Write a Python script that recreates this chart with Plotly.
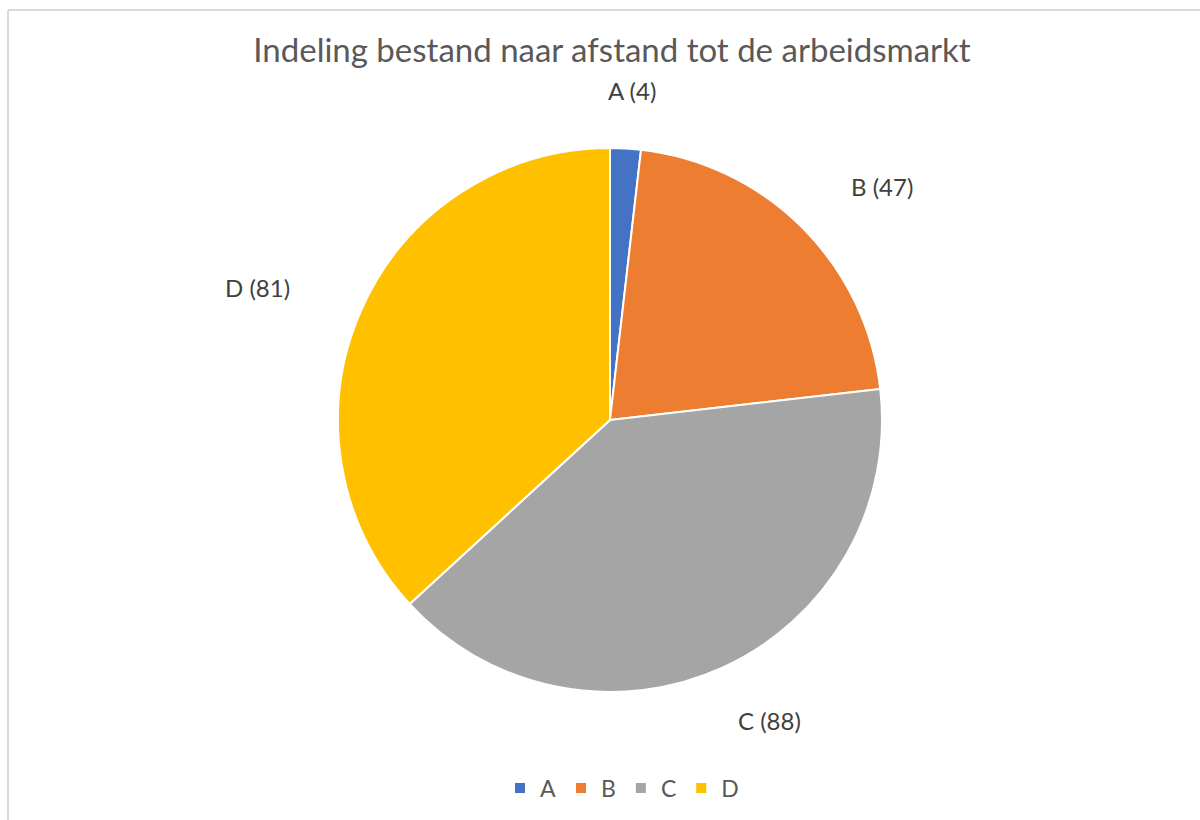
import math
import plotly.graph_objects as go

categories = ["A", "B", "C", "D"]
values = [4, 47, 88, 81]
colors = ["#4472C4", "#ED7D31", "#A5A5A5", "#FFC000"]
title_text = "Indeling bestand naar afstand tot de arbeidsmarkt"

W, H = 1200, 820
cx, cy, R = 610, 420, 272
FONT = "Lato, Open Sans, sans-serif"

fig = go.Figure()
fig.add_trace(go.Pie(
    labels=categories,
    values=values,
    sort=False,
    direction="clockwise",
    rotation=0,
    marker=dict(colors=colors, line=dict(color="white", width=2)),
    textinfo="none",
    hoverinfo="label+value",
    domain=dict(x=[(cx - R) / W, (cx + R) / W], y=[(H - cy - R) / H, (H - cy + R) / H]),
))

# data labels placed outside, computed from the slice mid-angles
total = sum(values)
cum = 0
annotations = []
gap_x, gap_y, box_w, box_h = 80, 45, 66, 26
for cat, v in zip(categories, values):
    mid = (cum + v / 2) / total * 2 * math.pi
    cum += v
    s, c = math.sin(mid), math.cos(mid)
    px = cx + (R + gap_x) * s + s * box_w / 2
    py = cy - (R + gap_y) * c - c * box_h / 2
    annotations.append(dict(
        x=px / W, y=1 - py / H, xref="paper", yref="paper",
        text=f"{cat} ({v})", showarrow=False,
        xanchor="center", yanchor="middle",
        font=dict(family=FONT, size=24, color="#404040"),
    ))

fig.update_layout(
    width=W, height=H,
    margin=dict(l=0, r=0, t=0, b=0),
    paper_bgcolor="white",
    plot_bgcolor="white",
    title=dict(
        text=title_text, x=612 / W, xanchor="center", y=1 - 50 / H, yanchor="middle",
        font=dict(family=FONT, size=33, color="#595959"),
    ),
    showlegend=True,
    legend=dict(
        orientation="h", x=622 / W, xanchor="center", y=1 - 788 / H, yanchor="middle",
        font=dict(family=FONT, size=23, color="#595959"),
        itemwidth=30, tracegroupgap=0,
    ),
    annotations=annotations,
    shapes=[
        dict(type="line", xref="paper", yref="paper", x0=8 / W, x1=1, y0=1 - 10 / H, y1=1 - 10 / H,
             line=dict(color="#D9D9D9", width=2)),
        dict(type="line", xref="paper", yref="paper", x0=8 / W, x1=8 / W, y0=0, y1=1 - 10 / H,
             line=dict(color="#D9D9D9", width=2)),
    ],
)

fig.write_html("out.html")
